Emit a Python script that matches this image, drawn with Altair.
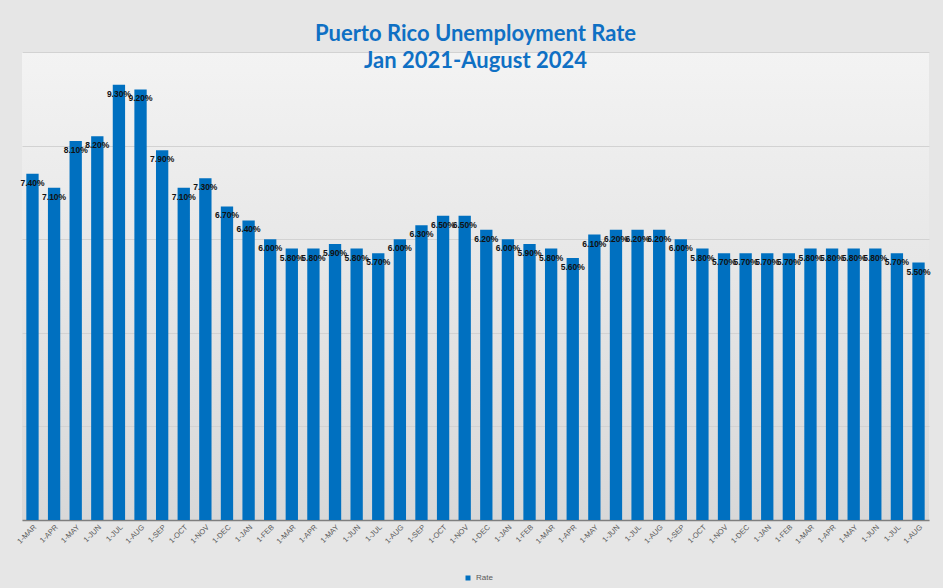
import altair as alt
import pandas as pd

months = ["1-MAR", "1-APR", "1-MAY", "1-JUN", "1-JUL", "1-AUG", "1-SEP", "1-OCT", "1-NOV", "1-DEC",
          "1-JAN", "1-FEB", "1-MAR", "1-APR", "1-MAY", "1-JUN", "1-JUL", "1-AUG", "1-SEP", "1-OCT", "1-NOV", "1-DEC",
          "1-JAN", "1-FEB", "1-MAR", "1-APR", "1-MAY", "1-JUN", "1-JUL", "1-AUG", "1-SEP", "1-OCT", "1-NOV", "1-DEC",
          "1-JAN", "1-FEB", "1-MAR", "1-APR", "1-MAY", "1-JUN", "1-JUL", "1-AUG"]
years = [2021] * 10 + [2022] * 12 + [2023] * 12 + [2024] * 8
rates = [7.4, 7.1, 8.1, 8.2, 9.3, 9.2, 7.9, 7.1, 7.3, 6.7,
         6.4, 6.0, 5.8, 5.8, 5.9, 5.8, 5.7, 6.0, 6.3, 6.5, 6.5, 6.2,
         6.0, 5.9, 5.8, 5.6, 6.1, 6.2, 6.2, 6.2, 6.0, 5.8, 5.7, 5.7,
         5.7, 5.7, 5.8, 5.8, 5.8, 5.8, 5.7, 5.5]

df = pd.DataFrame({
    "key": [f"{i:02d} {y} {m}" for i, (y, m) in enumerate(zip(years, months))],
    "rate": rates,
    "series": ["Rate"] * len(rates),
})

BLUE = "#0070c0"

base = alt.Chart(df)

bars = base.mark_bar().encode(
    x=alt.X("key:O", sort=None,
            scale=alt.Scale(paddingInner=0.43, paddingOuter=0.2),
            axis=alt.Axis(title=None, labelExpr="split(datum.label, ' ')[2]", labelAngle=-45,
                          labelFontSize=7.5, labelColor="#595959", labelFont="Liberation Sans",
                          ticks=False, domainColor="#7f7f7f", domainWidth=1.5, labelPadding=3)),
    y=alt.Y("rate:Q", scale=alt.Scale(domain=[0, 10], nice=False),
            axis=alt.Axis(title=None, labels=False, ticks=False, domain=False,
                          grid=True, gridColor="#d2d2d2", gridWidth=1, tickCount=10, values=list(range(0, 11)))),
    color=alt.Color("series:N", scale=alt.Scale(range=[BLUE]),
                    legend=alt.Legend(title=None, orient="none", legendX=442, legendY=522,
                                      symbolType="square", symbolSize=25, labelFontSize=8,
                                      labelColor="#595959", labelFont="Liberation Sans")),
)

labels = base.mark_text(dy=9, fontSize=8.5, fontWeight="bold", font="Liberation Sans",
                        color="#111111", baseline="middle").transform_calculate(
    label="format(datum.rate, '.2f') + '%'"
).encode(
    x=alt.X("key:O", sort=None),
    y=alt.Y("rate:Q"),
    text=alt.Text("label:N"),
)

chart = alt.layer(bars, labels).properties(
    width=907, height=468,
    autosize=alt.AutoSizeParams(type="none"),
    padding={"left": 22, "top": 52, "right": 14, "bottom": 68},
    background="#e6e6e6",
    title=alt.TitleParams(["Puerto Rico Unemployment Rate", "Jan  2021-August 2024"],
                          fontSize=22, font="Lato", fontWeight="bold", color="#0f70c4",
                          anchor="middle", offset=-21, lineHeight=27),
).configure_view(
    stroke=None,
    fill={"expr": "{gradient: 'linear', x1: 0, y1: 0, x2: 0, y2: 1, stops: [{offset: 0, color: '#f3f3f3'}, {offset: 1, color: '#d8d8d8'}]}"},
)

chart.save("out.html", embed_options={"renderer": "svg", "actions": False})
